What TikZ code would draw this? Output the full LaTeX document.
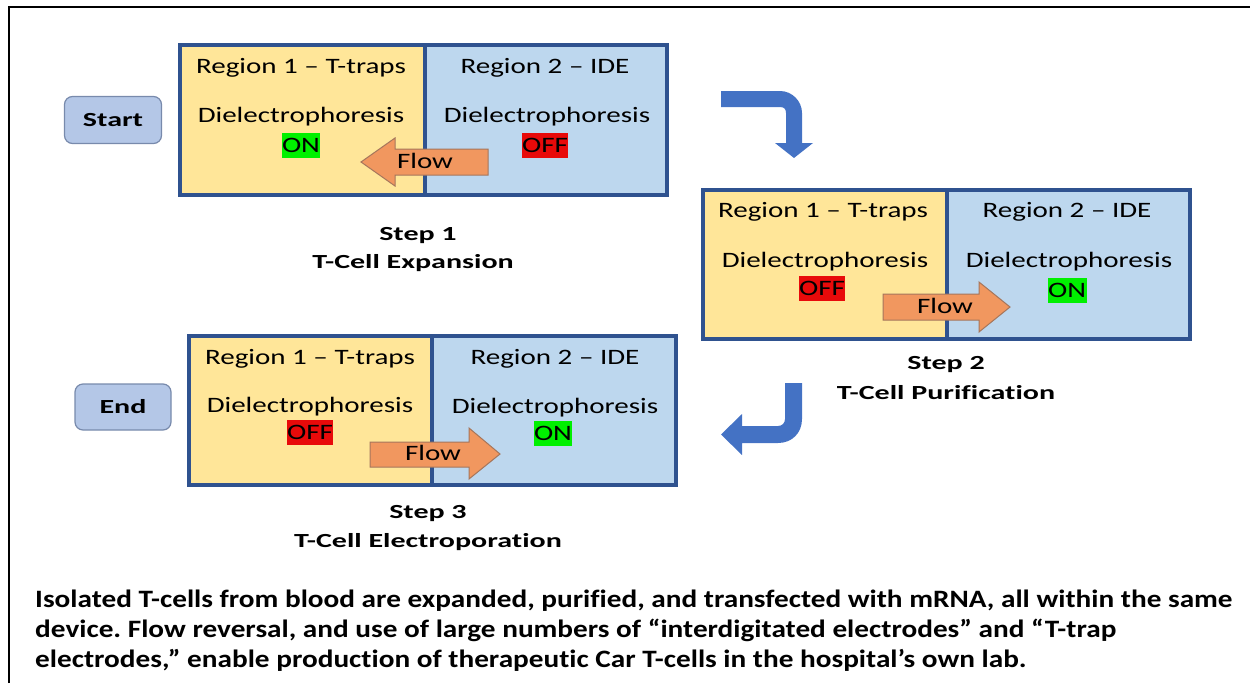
\documentclass[tikz,border=0pt]{standalone}
\usepackage{fontspec}
\setmainfont{Carlito}
\newfontfamily\boxfont[FakeStretch=1.32]{Carlito}
\newfontfamily\labelfont[FakeStretch=1.5,Ligatures=NoCommon]{Carlito}
\newfontfamily\notefont[FakeStretch=1.17,Ligatures={TeX,NoCommon}]{Carlito}
\frenchspacing
\definecolor{trapfill}{RGB}{255,230,153}
\definecolor{idefill}{RGB}{189,215,238}
\definecolor{boxline}{RGB}{47,82,143}
\definecolor{termfill}{RGB}{180,199,231}
\definecolor{termline}{RGB}{120,138,172}
\definecolor{flowfill}{RGB}{241,151,95}
\definecolor{flowline}{RGB}{165,118,92}
\definecolor{turnblue}{RGB}{68,114,196}
\definecolor{onfill}{RGB}{0,240,0}
\definecolor{offfill}{RGB}{232,10,10}
\begin{document}
\begin{tikzpicture}[x=1pt, y=-1pt,
  boxtext/.style={font={\boxfont\fontsize{22}{26}\selectfont}, inner sep=0pt, anchor=base},
  onlabel/.style={boxtext, anchor=center, fill=onfill, inner xsep=0.5pt, minimum height=25pt},
  offlabel/.style={boxtext, anchor=center, fill=offfill, inner xsep=0.5pt, minimum height=25pt},
  flowtext/.style={boxtext, anchor=center},
  flowarrow/.style={fill=flowfill, draw=flowline, line width=1pt},
  steptext/.style={font={\labelfont\bfseries\fontsize{20}{24}\selectfont}, inner sep=0pt, anchor=base},
  terminal/.style={draw=termline, fill=termfill, line width=1.2pt, rounded corners=8pt,
    minimum width=97pt, minimum height=47pt, inner sep=0pt,
    font={\labelfont\bfseries\fontsize{20}{24}\selectfont}},
  turn/.style={fill=turnblue},
  note/.style={font={\notefont\bfseries\fontsize{25}{30}\selectfont}, inner sep=0pt, anchor=base west}]
  \useasboundingbox (0,0) rectangle (1250,683);
  % frame
  \draw[line width=2.5pt] (9,683) -- (9,7) -- (1250,7);
  % start / end
  \node[terminal] (start) at (113,120) {Start};
  \node[terminal, minimum width=96pt, minimum height=46pt] (end) at (123,407) {End};
  % step 1: expansion, flow to the left
  \begin{scope}[shift={(180,45)}]
    \fill[trapfill] (0,0) rectangle (245,150);
    \fill[idefill] (245,0) rectangle (487,150);
    \draw[boxline, line width=3.5pt] (0,0) rectangle (487,150) (245,0) -- (245,150);
    \node[boxtext] (s1a) at (121,28) {Region 1 – T-traps};
    \node[boxtext] (s1b) at (365,28) {Region 2 – IDE};
    \node[boxtext] (s1c) at (121,77) {Dielectrophoresis};
    \node[boxtext] (s1d) at (367,77) {Dielectrophoresis};
    \node[onlabel] (s1on) at (121,100) {ON};
    \node[offlabel] (s1off) at (365,100) {OFF};
    \draw[flowarrow] (308,104) -- (215,104) -- (215,93) -- (181,117) -- (215,141) -- (215,130) -- (308,130) -- cycle;
    \node[flowtext] (s1flow) at (245,116) {Flow};
  \end{scope}
  \node[steptext] (s1n) at (418,240) {Step 1};
  \node[steptext] (s1t) at (413,268.5) {T-Cell Expansion};
  % step 2: purification, flow to the right
  \begin{scope}[shift={(703,190)}]
    \fill[trapfill] (0,0) rectangle (244,149);
    \fill[idefill] (244,0) rectangle (487,149);
    \draw[boxline, line width=3.5pt] (0,0) rectangle (487,149) (244,0) -- (244,149);
    \node[boxtext] (s2a) at (120,27) {Region 1 – T-traps};
    \node[boxtext] (s2b) at (364,27) {Region 2 – IDE};
    \node[boxtext] (s2c) at (122,77) {Dielectrophoresis};
    \node[boxtext] (s2d) at (366,77) {Dielectrophoresis};
    \node[offlabel] (s2off) at (119,98) {OFF};
    \node[onlabel] (s2on) at (364,100) {ON};
    \draw[flowarrow] (180,104) -- (276,104) -- (276,92) -- (307,117) -- (276,142) -- (276,130) -- (180,130) -- cycle;
    \node[flowtext] (s2flow) at (242,116) {Flow};
  \end{scope}
  \node[steptext] (s2n) at (946,369.5) {Step 2};
  \node[steptext] (s2t) at (946,399.5) {T-Cell Purification};
  % step 3: electroporation, flow to the right
  \begin{scope}[shift={(189,336)}]
    \fill[trapfill] (0,0) rectangle (243,149);
    \fill[idefill] (243,0) rectangle (487,149);
    \draw[boxline, line width=3.5pt] (0,0) rectangle (487,149) (243,0) -- (243,149);
    \node[boxtext] (s3a) at (121,28) {Region 1 – T-traps};
    \node[boxtext] (s3b) at (366,28) {Region 2 – IDE};
    \node[boxtext] (s3c) at (121,76) {Dielectrophoresis};
    \node[boxtext] (s3d) at (366,77) {Dielectrophoresis};
    \node[offlabel] (s3off) at (121,96) {OFF};
    \node[onlabel] (s3on) at (364,97) {ON};
    \draw[flowarrow] (181,106) -- (280,106) -- (280,92) -- (311,118) -- (280,143) -- (280,131) -- (181,131) -- cycle;
    \node[flowtext] (s3flow) at (244,117) {Flow};
  \end{scope}
  \node[steptext] (s3n) at (428,518.5) {Step 3};
  \node[steptext] (s3t) at (428,547.5) {T-Cell Electroporation};
  % turning arrows
  \fill[turn] (721,91) -- (780,91) .. controls (792,91) and (802,101) .. (802,113) -- (802,143)
    -- (813,143) -- (794,158) -- (775,143) -- (786,143) -- (786,113)
    .. controls (786,109) and (784,107) .. (780,107) -- (721,107) -- cycle;
  \fill[turn] (802,383) -- (802,419) .. controls (802,433) and (792,443) .. (778,443) -- (742,443)
    -- (742,455) -- (721,434.5) -- (742,414) -- (742,426) -- (778,426)
    .. controls (782,426) and (785,423) .. (785,419) -- (785,383) -- cycle;
  % caption text
  \node[note] (n1) at (35,607) {Isolated T-cells from blood are expanded, purified, and transfected with mRNA, all within the same};
  \node[note] (n2) at (35,637) {device. Flow reversal, and use of large numbers of “interdigitated electrodes” and “T-trap};
  \node[note] (n3) at (35,667) {electrodes,” enable production of therapeutic Car T-cells in the hospital’s own lab.};
\end{tikzpicture}
\end{document}
